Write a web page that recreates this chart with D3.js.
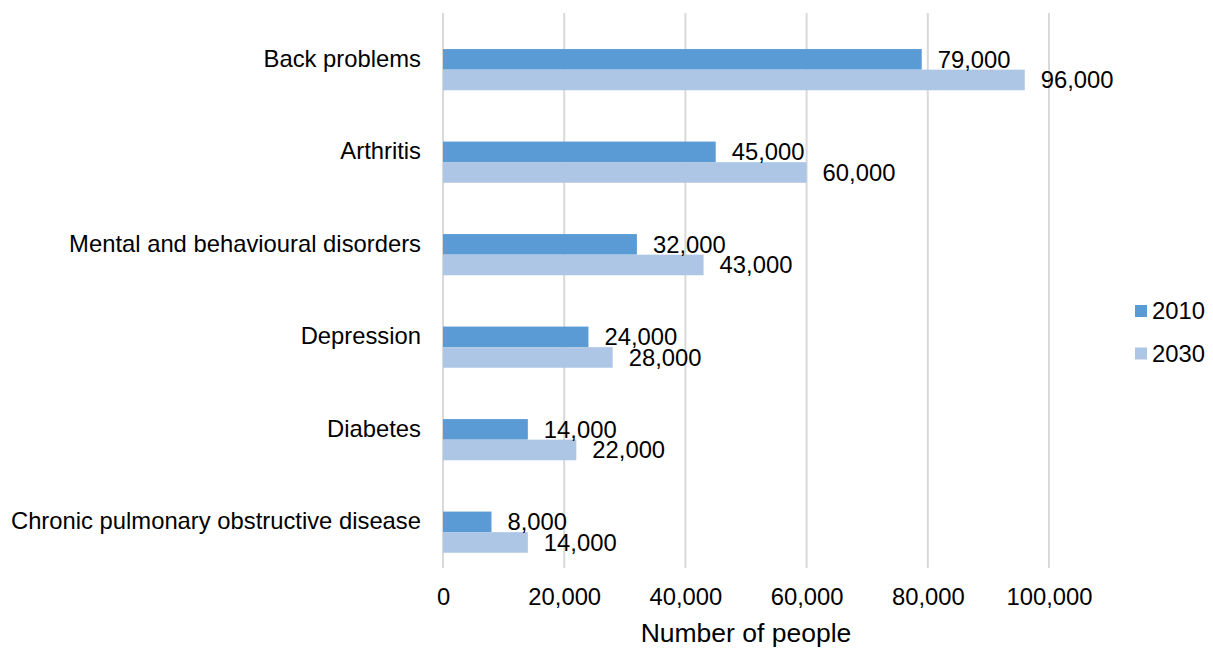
<!DOCTYPE html>
<html>
<head>
<meta charset="utf-8">
<script src="https://cdn.jsdelivr.net/npm/d3@7"></script>
<style>
  body { margin: 0; background: #fff; }
  text { font-family: "Liberation Sans", Arial, sans-serif; fill: #000; }
</style>
</head>
<body>
<script>
// chart data
const categories = ["Back problems", "Arthritis", "Mental and behavioural disorders",
    "Depression", "Diabetes", "Chronic pulmonary obstructive disease"];
const years = ["2010", "2030"];
const values2010 = [79000, 45000, 32000, 24000, 14000, 8000];
const values2030 = [96000, 60000, 43000, 28000, 22000, 14000];
const xTicks = [0, 20000, 40000, 60000, 80000, 100000];
const colors = ["#5b9bd5", "#adc6e5"];

const w = 1213, h = 648;
const fontSize = 23.8;

const svg = d3.select("body").append("svg")
    .attr("width", w)
    .attr("height", h);

const x = d3.scaleLinear()
    .domain([0, 100000])
    .range([443, 1049]);

const y = d3.scaleBand()
    .domain(categories)
    .range([13, 568]);

// bars sit a bit below the band centre, like the original
const sub = d3.scaleBand()
    .domain(years)
    .range([y.bandwidth() * 0.39, y.bandwidth() * 0.835]);

const fmt = d3.format(",");

// gridlines
svg.append("g")
    .selectAll("line")
    .data(xTicks)
    .enter().append("line")
    .attr("x1", d => x(d)).attr("x2", d => x(d))
    .attr("y1", 13).attr("y2", 568)
    .attr("stroke", "#d9d9d9")
    .attr("stroke-width", 2);

// x axis labels
const xAxis = svg.append("g")
    .attr("transform", "translate(0,568)")
    .call(d3.axisBottom(x).tickValues(xTicks).tickFormat(fmt).tickSize(0).tickPadding(20));
xAxis.select(".domain").remove();
xAxis.selectAll("text")
    .attr("font-size", fontSize)
    .attr("font-family", "Liberation Sans, Arial, sans-serif")
    .attr("fill", "#000");

// category labels
const yAxis = svg.append("g")
    .attr("transform", "translate(443,0)")
    .call(d3.axisLeft(y).tickSize(0).tickPadding(22));
yAxis.select(".domain").remove();
yAxis.selectAll("text")
    .attr("font-size", fontSize)
    .attr("font-family", "Liberation Sans, Arial, sans-serif")
    .attr("fill", "#000");

const rows = categories.map((c, i) => ({ cat: c, vals: [values2010[i], values2030[i]] }));

const groups = svg.selectAll(".row")
    .data(rows)
    .enter().append("g")
    .attr("class", "row")
    .attr("transform", d => "translate(0," + y(d.cat) + ")");

groups.selectAll("rect")
    .data(d => d.vals.map((v, j) => ({ year: years[j], v: v, j: j })))
    .enter().append("rect")
    .attr("x", x(0))
    .attr("y", d => sub(d.year))
    .attr("width", d => x(d.v) - x(0))
    .attr("height", sub.bandwidth())
    .attr("fill", d => colors[d.j]);

groups.selectAll(".val")
    .data(d => d.vals.map((v, j) => ({ year: years[j], v: v, j: j })))
    .enter().append("text")
    .attr("class", "val")
    .attr("x", d => x(d.v) + 16)
    .attr("y", d => sub(d.year) + sub.bandwidth() / 2)
    .attr("dy", "0.35em")
    .attr("font-size", fontSize)
    .text(d => fmt(d.v));

// axis title
svg.append("text")
    .attr("x", (x(0) + x(100000)) / 2)
    .attr("y", 642)
    .attr("text-anchor", "middle")
    .attr("font-size", 26.5)
    .text("Number of people");

// legend
const legend = svg.selectAll(".legend")
    .data(years)
    .enter().append("g")
    .attr("class", "legend")
    .attr("transform", (d, i) => "translate(1135," + (305 + i * 42.5) + ")");

legend.append("rect")
    .attr("width", 12)
    .attr("height", 12)
    .attr("fill", (d, i) => colors[i]);

legend.append("text")
    .attr("x", 17)
    .attr("y", 6)
    .attr("dy", "0.35em")
    .attr("font-size", fontSize)
    .text(d => d);
</script>
</body>
</html>
